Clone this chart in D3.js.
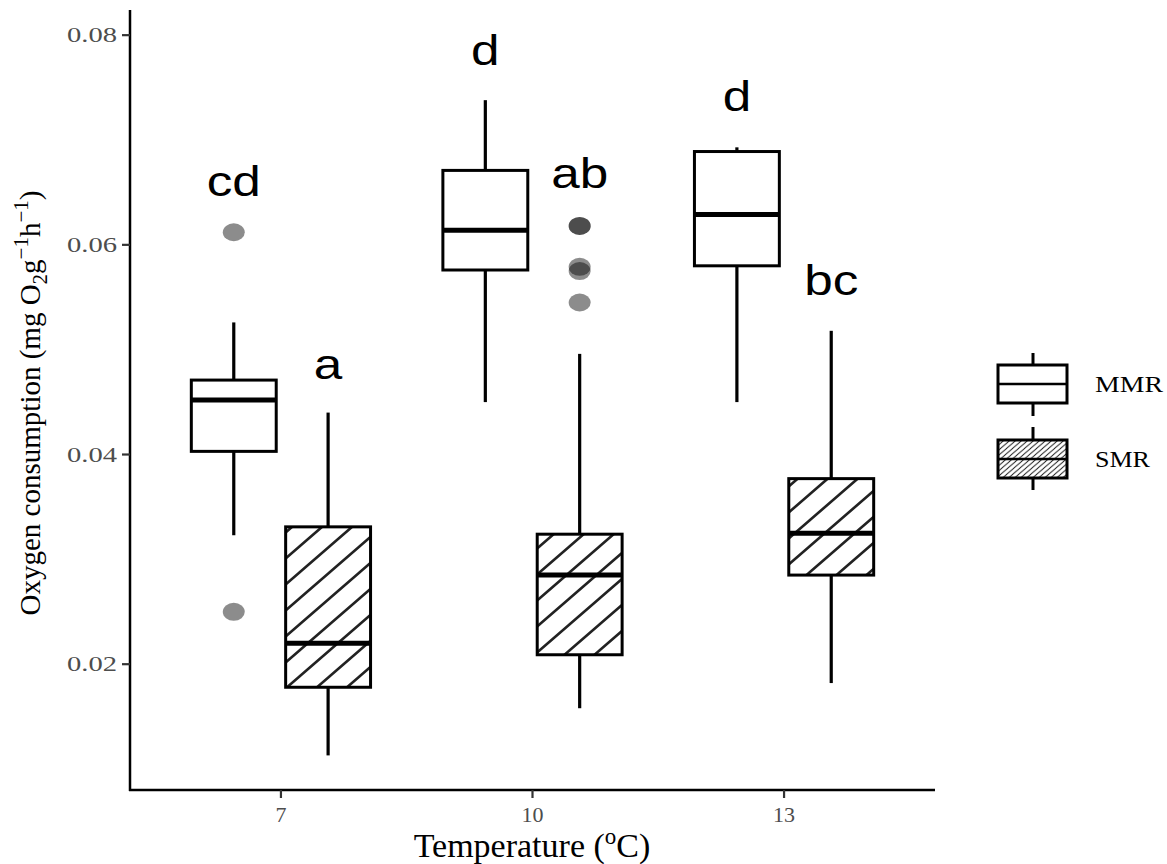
<!DOCTYPE html>
<html>
<head>
<meta charset="utf-8">
<script src="https://cdn.jsdelivr.net/npm/d3@7"></script>
<style>
  body { margin: 0; background: #fff; }
  svg { display: block; }
</style>
</head>
<body>
<svg id="chart" width="1167" height="864"></svg>
<script>
var temps = ['7', '10', '13'];
var groups = ['MMR', 'SMR'];

// [lower whisker, Q1, median, Q3, upper whisker]
var mmrStats = [
  [0.0323, 0.0403, 0.0452, 0.0471, 0.0526],
  [0.0450, 0.0576, 0.0614, 0.0671, 0.0738],
  [0.0450, 0.0580, 0.0629, 0.0689, 0.0693]
];
var smrStats = [
  [0.0113, 0.0178, 0.0220, 0.0331, 0.0440],
  [0.0158, 0.0209, 0.0285, 0.0324, 0.0496],
  [0.0182, 0.0285, 0.0325, 0.0377, 0.0518]
];
var mmrOutliers = [[0.0612, 0.0250], [], []];
var smrOutliers = [[], [0.0618, 0.0618, 0.0579, 0.0575, 0.0545], []];

var mmrLetters = ['cd', 'd', 'd'];
var mmrLetterY = [0.0647, 0.0772, 0.0728];
var smrLetters = ['a', 'ab', 'bc'];
var smrLetterY = [0.0472, 0.0654, 0.0552];

var yTicks = [0.02, 0.04, 0.06, 0.08];

var svg = d3.select('#chart');

var x = d3.scalePoint().domain(temps).range([130, 935]).padding(0.6);
var y = d3.scaleLinear().domain([0.008, 0.0824]).range([790, 10]);
var dodge = d3.scaleBand().domain(groups)
  .range([-x.step() * 0.375, x.step() * 0.375]);
var boxW = dodge.bandwidth() * 0.9;

// hatch patterns
var defs = svg.append('defs');
function hatch(id, w, h, sw) {
  var p = defs.append('pattern')
    .attr('id', id)
    .attr('patternUnits', 'userSpaceOnUse')
    .attr('width', w)
    .attr('height', h);
  p.append('rect').attr('width', w).attr('height', h).attr('fill', '#fff');
  p.append('path')
    .attr('d', 'M0,' + h + 'L' + w + ',0M' + (-w / 2) + ',' + (h / 2) + 'L' + (w / 2) + ',' + (-h / 2) +
      'M' + (w / 2) + ',' + (h * 1.5) + 'L' + (w * 1.5) + ',' + (h / 2))
    .attr('stroke', '#222')
    .attr('stroke-width', sw);
}
hatch('hatchBig', 30, 26, 2.6);
hatch('hatchKey', 6, 5.2, 1);

// build rows
var rows = [];
temps.forEach(function (t, i) {
  rows.push({ temp: t, group: 'MMR', s: mmrStats[i], out: mmrOutliers[i], lab: mmrLetters[i], labY: mmrLetterY[i] });
  rows.push({ temp: t, group: 'SMR', s: smrStats[i], out: smrOutliers[i], lab: smrLetters[i], labY: smrLetterY[i] });
});
function cx(d) { return x(d.temp) + dodge(d.group) + dodge.bandwidth() / 2; }

var boxes = svg.append('g').attr('class', 'boxes')
  .selectAll('g').data(rows).enter().append('g');

// whiskers
boxes.append('line')
  .attr('x1', cx).attr('x2', cx)
  .attr('y1', function (d) { return y(d.s[4]); })
  .attr('y2', function (d) { return y(d.s[3]); })
  .attr('stroke', '#000').attr('stroke-width', 3.2);
boxes.append('line')
  .attr('x1', cx).attr('x2', cx)
  .attr('y1', function (d) { return y(d.s[1]); })
  .attr('y2', function (d) { return y(d.s[0]); })
  .attr('stroke', '#000').attr('stroke-width', 3.2);

// box
boxes.append('rect')
  .attr('x', function (d) { return cx(d) - boxW / 2; })
  .attr('width', boxW)
  .attr('y', function (d) { return y(d.s[3]); })
  .attr('height', function (d) { return y(d.s[1]) - y(d.s[3]); })
  .attr('fill', function (d) { return d.group === 'SMR' ? 'url(#hatchBig)' : '#fff'; })
  .attr('stroke', '#000').attr('stroke-width', 3);

// median
boxes.append('line')
  .attr('x1', function (d) { return cx(d) - boxW / 2; })
  .attr('x2', function (d) { return cx(d) + boxW / 2; })
  .attr('y1', function (d) { return y(d.s[2]); })
  .attr('y2', function (d) { return y(d.s[2]); })
  .attr('stroke', '#000').attr('stroke-width', 5);

// outliers
boxes.selectAll('ellipse')
  .data(function (d) { return d.out.map(function (v) { return { row: d, v: v }; }); })
  .enter().append('ellipse')
  .attr('cx', function (o) { return cx(o.row); })
  .attr('cy', function (o) { return y(o.v); })
  .attr('rx', 11).attr('ry', 9)
  .attr('fill', '#000').attr('fill-opacity', 0.45);

// significance letters
boxes.append('text')
  .attr('x', cx)
  .attr('y', function (d) { return y(d.labY); })
  .attr('text-anchor', 'middle')
  .style('font-family', 'Liberation Sans, Arial, sans-serif')
  .style('font-size', '42px')
  .attr('fill', '#000')
  .text(function (d) { return d.lab; })
  .each(function () {
    var t = d3.select(this);
    t.attr('textLength', this.getComputedTextLength() * 1.22).attr('lengthAdjust', 'spacingAndGlyphs');
  });

// axes
var axisG = svg.append('g');
axisG.append('line')
  .attr('x1', 130).attr('x2', 130).attr('y1', 10).attr('y2', 791)
  .attr('stroke', '#000').attr('stroke-width', 2.5);
axisG.append('line')
  .attr('x1', 129).attr('x2', 935).attr('y1', 790).attr('y2', 790)
  .attr('stroke', '#000').attr('stroke-width', 2.5);

axisG.selectAll('.ytick').data(yTicks).enter().append('line')
  .attr('x1', 122).attr('x2', 130)
  .attr('y1', y).attr('y2', y)
  .attr('stroke', '#333').attr('stroke-width', 2.2);
axisG.selectAll('.ylab').data(yTicks).enter().append('text')
  .attr('x', 117)
  .attr('y', function (d) { return y(d) + 7; })
  .attr('text-anchor', 'end')
  .style('font-family', 'Liberation Serif, Times New Roman, serif')
  .style('font-size', '21px')
  .attr('fill', '#4d4d4d')
  .attr('textLength', 50).attr('lengthAdjust', 'spacingAndGlyphs')
  .text(function (d) { return d3.format('.2f')(d); });

axisG.selectAll('.xtick').data(temps).enter().append('line')
  .attr('x1', x).attr('x2', x)
  .attr('y1', 790).attr('y2', 798)
  .attr('stroke', '#333').attr('stroke-width', 2.2);
axisG.selectAll('.xlab').data(temps).enter().append('text')
  .attr('x', x)
  .attr('y', 822)
  .attr('text-anchor', 'middle')
  .style('font-family', 'Liberation Serif, Times New Roman, serif')
  .style('font-size', '22px')
  .attr('fill', '#4d4d4d')
  .text(function (d) { return d; });

// axis titles
var xt = svg.append('text')
  .attr('x', 532).attr('y', 857)
  .attr('text-anchor', 'middle')
  .style('font-family', 'Liberation Serif, Times New Roman, serif')
  .style('font-size', '34px')
  .attr('fill', '#000');
xt.append('tspan').text('Temperature (');
xt.append('tspan').attr('dy', -13).style('font-size', '23px').text('o');
xt.append('tspan').attr('dy', 13).text('C)');

var yt = svg.append('text')
  .attr('transform', 'translate(40,403) rotate(-90)')
  .attr('text-anchor', 'middle')
  .style('font-family', 'Liberation Serif, Times New Roman, serif')
  .style('font-size', '29px')
  .attr('fill', '#000');
yt.append('tspan').text('Oxygen consumption (mg O');
yt.append('tspan').attr('dy', 7).style('font-size', '21px').text('2');
yt.append('tspan').attr('dy', -7).text('g');
yt.append('tspan').attr('dy', -12).style('font-size', '21px').text('\u22121');
yt.append('tspan').attr('dy', 12).text('h');
yt.append('tspan').attr('dy', -12).style('font-size', '21px').text('\u22121');
yt.append('tspan').attr('dy', 12).text(')');

// legend
var legendRows = [
  { group: 'MMR', top: 365, mid: 384, bot: 403, wTop: 353, wBot: 416 },
  { group: 'SMR', top: 440, mid: 459, bot: 478, wTop: 427, wBot: 490 }
];
var lg = svg.append('g').selectAll('g').data(legendRows).enter().append('g');
lg.append('line')
  .attr('x1', 1033).attr('x2', 1033)
  .attr('y1', function (d) { return d.wTop; })
  .attr('y2', function (d) { return d.wBot; })
  .attr('stroke', '#000').attr('stroke-width', 3);
lg.append('rect')
  .attr('x', 998).attr('width', 69)
  .attr('y', function (d) { return d.top; })
  .attr('height', function (d) { return d.bot - d.top; })
  .attr('fill', function (d) { return d.group === 'SMR' ? 'url(#hatchKey)' : '#fff'; })
  .attr('stroke', '#000').attr('stroke-width', 3);
lg.append('line')
  .attr('x1', 998).attr('x2', 1067)
  .attr('y1', function (d) { return d.mid; })
  .attr('y2', function (d) { return d.mid; })
  .attr('stroke', '#000').attr('stroke-width', 2.5);
lg.append('text')
  .attr('x', 1095)
  .attr('y', function (d) { return d.mid + 8; })
  .style('font-family', 'Liberation Serif, Times New Roman, serif')
  .style('font-size', '23px')
  .attr('fill', '#000')
  .attr('textLength', function (d) { return d.group === 'MMR' ? 68 : 55; })
  .attr('lengthAdjust', 'spacingAndGlyphs')
  .text(function (d) { return d.group; });
</script>
</body>
</html>
